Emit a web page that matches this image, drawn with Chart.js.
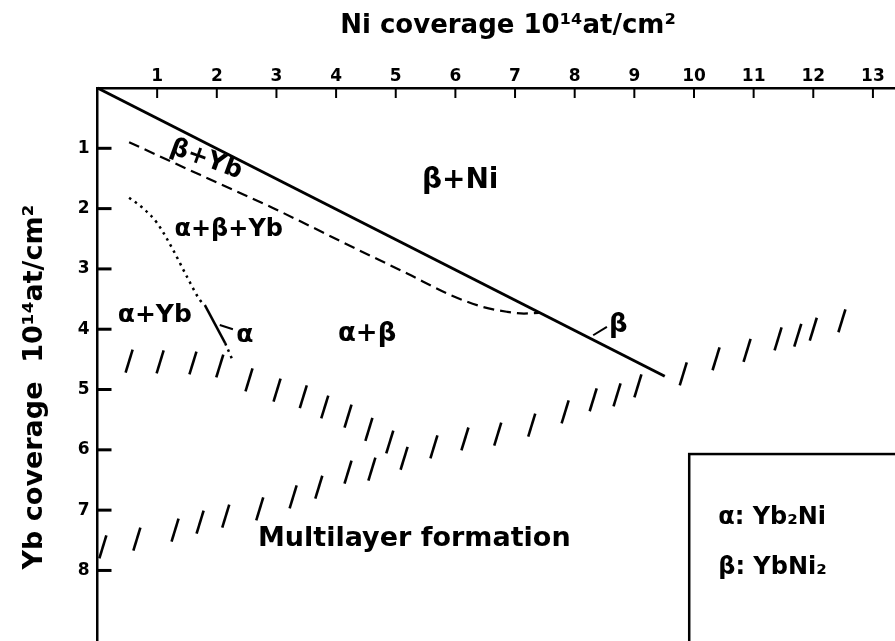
<!DOCTYPE html>
<html>
<head>
<meta charset="utf-8">
<title>Yb / Ni coverage diagram</title>
<script src="https://cdn.jsdelivr.net/npm/chart.js@4.4.0/dist/chart.umd.min.js"></script>
<style>
  html, body { margin: 0; padding: 0; background: #fff; overflow: hidden; }
  #wrap { position: relative; width: 895px; height: 641px; }
  #chart { display: block; }
</style>
</head>
<body>
<div id="wrap"><canvas id="chart"></canvas></div>
<script>
// coverages in 10^14 at/cm^2 : x = Ni, y = Yb (axis downwards)
const niTicks = [1, 2, 3, 4, 5, 6, 7, 8, 9, 10, 11, 12, 13];
const ybTicks = [1, 2, 3, 4, 5, 6, 7, 8];

// limite de la phase beta (trait plein)
const betaLimit = [[0, 0], [9.51, 4.78]];
// frontiere beta+Yb / alpha+beta+Yb (tirets)
const dashedBoundary = [[0.53, 0.9], [1.72, 1.44], [2.94, 1.99], [4.3, 2.65], [5.2, 3.08],
  [5.91, 3.43], [6.46, 3.63], [6.86, 3.71], [7.15, 3.74], [7.4, 3.73]];
// frontiere alpha+Yb / alpha+beta+Yb (pointilles + partie pleine)
const dottedBoundary = [[0.53, 1.82], [0.76, 1.99], [1.0, 2.24], [1.27, 2.69], [1.5, 3.13], [1.72, 3.52], [1.8, 3.6]];
const alphaSolid = [[1.8, 3.6], [2.14, 4.23]];
const dottedTail = [[2.14, 4.23], [2.25, 4.48]];
const alphaLeader = [[2.05, 3.93], [2.27, 4.0]];
const betaLeader = [[8.31, 4.1], [8.54, 3.96]];

// hachures : debut de la formation multicouche
const hatchUpper = [[0.53, 4.53], [1.05, 4.54], [1.6, 4.56], [2.05, 4.61], [2.54, 4.84], [3.01, 5.01],
  [3.45, 5.12], [3.81, 5.29], [4.2, 5.44], [4.55, 5.66], [4.9, 5.87], [5.14, 6.14]];
const hatchRight = [[5.64, 5.95], [6.16, 5.82], [6.71, 5.74], [7.28, 5.59], [7.84, 5.37], [8.31, 5.17],
  [8.71, 5.09], [9.06, 4.94], [9.82, 4.74], [10.37, 4.49], [10.89, 4.35], [11.41, 4.16],
  [11.74, 4.1], [12.0, 4.0], [12.48, 3.86]];
const hatchLower = [[0.09, 7.61], [0.66, 7.48], [1.3, 7.33], [1.72, 7.2], [2.15, 7.1], [2.72, 6.98],
  [3.28, 6.78], [3.71, 6.62], [4.2, 6.37], [4.6, 6.32]];

const regionLabels = [
  { text: 'β+Yb', x: 1.82, y: 1.19, rot: 20, size: 25 },
  { text: 'β+Ni', x: 6.08, y: 1.53, size: 28 },
  { text: 'α+β+Yb', x: 2.2, y: 2.35, size: 24 },
  { text: 'α+Yb', x: 0.96, y: 3.78, size: 25 },
  { text: 'α', x: 2.47, y: 4.11, size: 25 },
  { text: 'α+β', x: 4.52, y: 4.08, size: 26 },
  { text: 'β', x: 8.73, y: 3.93, size: 26 }
];
const legendLines = ['α: Yb₂Ni', 'β: YbNi₂'];

const FONT = '"DejaVu Sans", sans-serif';
Chart.defaults.font.family = FONT;
Chart.defaults.color = '#000';

// les hachures (pointStyle 'line', grand rayon) ne doivent pas reduire la zone de trace
Chart.ScatterController.prototype.getMaxOverflow = function () { return 0; };

const toXY = pts => pts.map(([x, y]) => ({ x, y }));

const line = (data, extra) => Object.assign({
  data: toXY(data),
  showLine: true,
  borderColor: '#000',
  borderWidth: 2.2,
  pointRadius: 0,
  clip: false
}, extra);

const hatch = data => ({
  data: toXY(data),
  showLine: false,
  pointStyle: 'line',
  pointRotation: -73,
  pointRadius: 12,
  pointBorderWidth: 2.6,
  pointBorderColor: '#000',
  pointBackgroundColor: '#000',
  clip: false
});

// pas de marge automatique autour de la zone de trace
const fixBox = size => s => {
  Object.assign(s, size);
  s.paddingTop = s.paddingBottom = s.paddingLeft = s.paddingRight = 0;
};

// textes, graduations interieures et cadre de legende
const diagramText = {
  id: 'diagramText',
  afterDraw(chart) {
    const { ctx, chartArea, scales: { x, y } } = chart;
    const seg = (x1, y1, x2, y2) => { ctx.beginPath(); ctx.moveTo(x1, y1); ctx.lineTo(x2, y2); ctx.stroke(); };
    ctx.save();
    ctx.fillStyle = '#000';
    ctx.strokeStyle = '#000';

    ctx.lineWidth = 2;
    niTicks.forEach(v => { const px = x.getPixelForValue(v); seg(px, chartArea.top, px, chartArea.top + 10); });
    ctx.lineWidth = 3;
    ybTicks.forEach(v => { const py = y.getPixelForValue(v); seg(chartArea.left, py, chartArea.left + 14, py); });

    ctx.textAlign = 'center';
    ctx.textBaseline = 'middle';
    ctx.font = 'bold 26px ' + FONT;
    ctx.fillText('Ni coverage 10¹⁴at/cm²', 508, 26);
    ctx.save();
    ctx.translate(35, 387);
    ctx.rotate(-Math.PI / 2);
    ctx.font = 'bold 27px ' + FONT;
    ctx.fillText('Yb coverage  10¹⁴at/cm²', 0, 0);
    ctx.restore();

    regionLabels.forEach(l => {
      ctx.save();
      ctx.font = 'bold ' + l.size + 'px ' + FONT;
      ctx.translate(x.getPixelForValue(l.x), y.getPixelForValue(l.y));
      if (l.rot) ctx.rotate(l.rot * Math.PI / 180);
      ctx.fillText(l.text, 0, 0);
      ctx.restore();
    });

    ctx.textAlign = 'left';
    ctx.font = 'bold 27px ' + FONT;
    ctx.fillText('Multilayer formation', x.getPixelForValue(2.69), y.getPixelForValue(7.48));

    // legende
    ctx.lineWidth = 2.5;
    const bx = x.getPixelForValue(9.92), by = y.getPixelForValue(6.07);
    ctx.strokeRect(bx, by, chartArea.right - bx + 10, chartArea.bottom - by + 10);
    ctx.font = 'bold 24px ' + FONT;
    legendLines.forEach((t, i) => ctx.fillText(t, bx + 29, by + 64 + i * 50));
    ctx.restore();
  }
};

new Chart(document.getElementById('chart'), {
  type: 'scatter',
  data: {
    datasets: [
      line(betaLimit, { borderWidth: 3 }),
      line(dashedBoundary, { borderDash: [11, 6], cubicInterpolationMode: 'monotone' }),
      line(dottedBoundary, { borderDash: [2.5, 4.5], borderWidth: 2.5, cubicInterpolationMode: 'monotone' }),
      line(alphaSolid, { borderWidth: 2.5 }),
      line(dottedTail, { borderDash: [2.5, 4.5], borderWidth: 2.5 }),
      line(alphaLeader, { borderWidth: 2 }),
      line(betaLeader, { borderWidth: 2 }),
      hatch(hatchUpper),
      hatch(hatchRight),
      hatch(hatchLower)
    ]
  },
  options: {
    responsive: true,
    maintainAspectRatio: false,
    animation: false,
    events: [],
    layout: { padding: 0 },
    plugins: { legend: { display: false }, tooltip: { enabled: false } },
    scales: {
      x: {
        type: 'linear', position: 'top', min: 0, max: 13.37,
        grid: { display: false, drawTicks: false },
        border: { display: true, color: '#000', width: 2.5 },
        ticks: {
          stepSize: 1, padding: 1, autoSkip: false, maxRotation: 0, includeBounds: false,
          font: { size: 17, weight: 'bold' },
          callback: v => niTicks.includes(v) ? v : ''
        },
        afterFit: fixBox({ height: 88 })
      },
      y: {
        type: 'linear', reverse: true, min: 0, max: 9.17,
        grid: { display: false, drawTicks: false },
        border: { display: true, color: '#000', width: 2.5 },
        ticks: {
          stepSize: 1, padding: 8, autoSkip: false, includeBounds: false,
          font: { size: 17, weight: 'bold' },
          callback: v => ybTicks.includes(v) ? v : ''
        },
        afterFit: fixBox({ width: 97.5 })
      }
    }
  },
  plugins: [diagramText]
});
</script>
</body>
</html>
